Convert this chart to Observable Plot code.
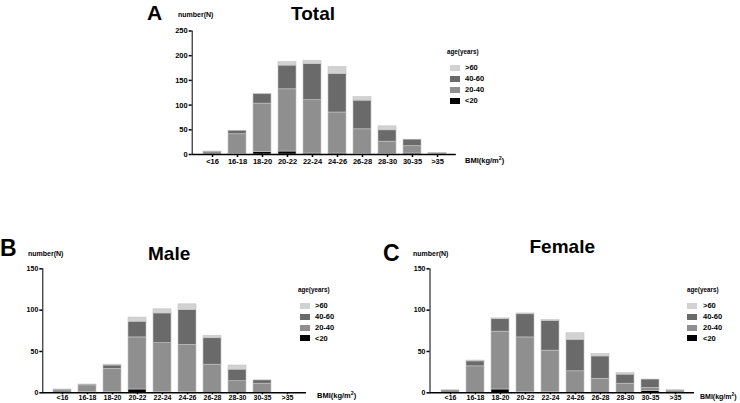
<!DOCTYPE html>
<html><head><meta charset="utf-8">
<script src="https://cdn.jsdelivr.net/npm/d3@7"></script>
<script src="https://cdn.jsdelivr.net/npm/@observablehq/plot@0.6"></script>
<style>
body{margin:0;background:#fff;}
#root{position:relative;width:740px;height:403px;overflow:hidden;font-family:"Liberation Sans",Arial,sans-serif;font-weight:bold;color:#000;}
.abs{position:absolute;white-space:nowrap;line-height:1;}
.panel{position:absolute;}
.panel svg{overflow:visible;}
.panel svg g[aria-label^="y-axis"] path,.panel svg g[aria-label^="x-axis"] path,.panel svg g[aria-label="rule"] line{stroke-width:1.5px;}
sup{font-size:0.7em;line-height:0;}
</style></head><body><div id="root"></div>
<script>
const categories = ["<16","16-18","18-20","20-22","22-24","24-26","26-28","28-30","30-35",">35"];
const ageGroups = ["<20","20-40","40-60",">60"];
const ageColors = ["#000000","#8f8f8f","#6a6a6a","#d2d2d2"];

const totalLt20   = [0, 1, 5,  6,   2,  2,  1,  1,  2, 0];
const total20to40 = [5, 40, 98, 126, 108, 83, 50, 25, 15, 2];
const total40to60 = [1, 7, 19, 48,  73, 78, 58, 23, 13, 1];
const totalGt60   = [0, 0, 1,  7,   6,  14, 7,  8,  0, 0];

const maleLt20   = [0, 1, 1,  4,  1,  1,  0,  0,  0, 0];
const male20to40 = [3, 8, 28, 63, 59, 57, 34, 14, 11, 0];
const male40to60 = [1, 1, 4,  19, 36, 42, 32, 14, 4, 0];
const maleGt60   = [0, 0, 1,  5,  5,  7,  3,  5,  0, 0];

const femaleLt20   = [0, 0,  4,  1,  1,  0,  0,  0,  2, 0];
const female20to40 = [3, 32, 70, 66, 50, 26, 17, 11, 4, 2];
const female40to60 = [0, 6,  15, 28, 36, 38, 27, 11, 10, 1];
const femaleGt60   = [0, 1,  1,  1,  1,  8,  3,  2,  0, 0];

const yTicksTotal = [0,50,100,150,200,250];
const yTicksSex = [0,50,100,150];

function longData(series){
  const out=[];
  categories.forEach((c,i)=>{ageGroups.forEach((a,j)=>{out.push({bmi:c,age:a,n:series[j][i]});});});
  return out;
}

const root=document.getElementById("root");
function text(x,baseline,size,html,anchor){
  const d=document.createElement("div");
  d.className="abs";
  d.style.fontSize=size+"px";
  d.style.top=(baseline-0.846*size)+"px";
  d.innerHTML=html;
  root.appendChild(d);
  if(anchor==="middle"){d.style.left=(x-d.offsetWidth/2)+"px";} else {d.style.left=x+"px";}
  return d;
}

function panel(cfg){
  const chart=Plot.plot({
    width:cfg.width,height:cfg.height,
    marginLeft:cfg.ml,marginRight:cfg.mr,marginTop:cfg.mt,marginBottom:cfg.mb,
    style:{fontFamily:"Liberation Sans, Arial, sans-serif",fontWeight:"bold",fontSize:cfg.fs+"px",background:"transparent",color:"#000"},
    x:{type:"band",domain:categories,padding:0.3,label:null,tickSize:cfg.xts,tickPadding:cfg.xtp},
    y:{domain:[0,cfg.ymax],ticks:cfg.ticks,label:null,tickSize:3,tickPadding:1.5,line:true},
    color:{domain:ageGroups,range:ageColors},
    marks:[
      Plot.barY(cfg.data,{x:"bmi",y:"n",fill:"age",order:ageGroups,stroke:"#c4c4c4",strokeWidth:0.6}),
      Plot.ruleY([0],{strokeWidth:1.5})
    ]
  });
  const wrap=document.createElement("div");
  wrap.className="panel";
  wrap.style.left=cfg.left+"px";wrap.style.top=cfg.top+"px";
  wrap.appendChild(chart);
  root.appendChild(wrap);
}

function legend(x,titleBase,swX,rows,labX){
  text(x,titleBase,6.3,"age(years)");
  const order=[3,2,1,0];
  order.forEach((j,k)=>{
    const s=document.createElement("div");
    s.className="abs";
    s.style.left=swX+"px";s.style.top=(rows[k]-3)+"px";
    s.style.width="10px";s.style.height="6px";s.style.background=ageColors[j];
    root.appendChild(s);
    text(labX,rows[k]+2.6,7.5,ageGroups[j].replace("<","&lt;").replace(">","&gt;"));
  });
}

panel({left:0,top:0,width:500,height:175,ml:191.7,mr:44.2,mt:30.5,mb:21,ymax:250,ticks:yTicksTotal,fs:7.5,xts:3,xtp:1.5,
  data:longData([totalLt20,total20to40,total40to60,totalGt60])});
panel({left:0,top:200,width:370,height:203,ml:42.3,mr:64,mt:68.3,mb:10.7,ymax:150,ticks:yTicksSex,fs:7,xts:2,xtp:0.5,
  data:longData([maleLt20,male20to40,male40to60,maleGt60])});
panel({left:370,top:200,width:370,height:203,ml:59.5,mr:46,mt:68.3,mb:10.7,ymax:150,ticks:yTicksSex,fs:7,xts:2,xtp:0.5,
  data:longData([femaleLt20,female20to40,female40to60,femaleGt60])});

text(147,20,21,"A");
text(313,20,19,"Total","middle");
text(178,17,7,"number(N)");
legend(447,54,450,[68,79,90,100.5],465);
text(465,163,7.5,"BMI(kg/m<sup>2</sup>)");

text(0,256,23,"B");
text(169,260,19,"Male","middle");
text(28,256,7,"number(N)");
legend(298,292,300,[306,316.7,327.7,338.3],315);
text(317,398.5,7.5,"BMI(kg/m<sup>2</sup>)");

text(383,261,23,"C");
text(562,253,19,"Female","middle");
text(413,256,7,"number(N)");
legend(687,292,687,[306,316.7,327.7,338.3],703);
text(700,398.5,7,"BMI(kg/m<sup>2</sup>)");
</script></body></html>
